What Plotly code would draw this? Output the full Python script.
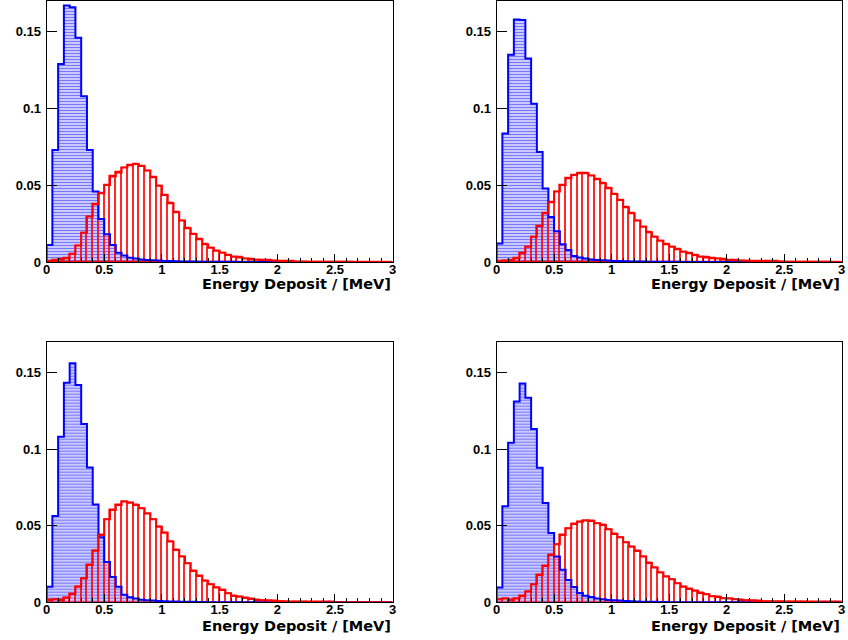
import plotly.graph_objects as go

# ---------------- data ----------------
bin_width = 0.05
bin_edges = [round(i * bin_width, 2) for i in range(61)]
bin_centers = [round(0.025 + i * bin_width, 3) for i in range(60)]

x_tickvals = [0, 0.5, 1, 1.5, 2, 2.5, 3]
x_ticktext = ["0", "0.5", "1", "1.5", "2", "2.5", "3"]
y_tickvals = [0, 0.05, 0.1, 0.15]
y_ticktext = ["0", "0.05", "0.1", "0.15"]
x_title = "Energy Deposit / [MeV]"

blue_1 = [0.011, 0.073, 0.129, 0.167, 0.166, 0.146, 0.108, 0.073, 0.046, 0.028,
          0.018, 0.011, 0.006, 0.0043, 0.0028, 0.0022, 0.0017, 0.0013, 0.0011, 0.0009,
          0.0007, 0.0006, 0.0005, 0.0004, 0.0003, 0.0003, 0.0002, 0.0002, 0.0001, 0.0001,
          0.0001, 0.0001, 0.0001, 0, 0, 0, 0, 0, 0, 0,
          0, 0, 0, 0, 0, 0, 0, 0, 0, 0,
          0, 0, 0, 0, 0, 0, 0, 0, 0, 0]
red_1 = [0.0007, 0.0013, 0.0017, 0.0024, 0.0052, 0.0107, 0.0191, 0.0296, 0.0376, 0.0448,
         0.0502, 0.0557, 0.0583, 0.0615, 0.0630, 0.0639, 0.0626, 0.0596, 0.0552, 0.0496,
         0.0437, 0.0383, 0.0324, 0.0270, 0.0220, 0.0183, 0.0148, 0.0115, 0.0093, 0.0074,
         0.0061, 0.0046, 0.0035, 0.0030, 0.0022, 0.0017, 0.0015, 0.0013, 0.0011, 0.0009,
         0.0007, 0.0005, 0.0004, 0.0003, 0.0003, 0.0002, 0.0002, 0.0001, 0.0001, 0.0001,
         0.0001, 0.0001, 0.0001, 0, 0, 0, 0, 0, 0, 0]

blue_2 = [0.012, 0.0837, 0.135, 0.158, 0.1576, 0.1326, 0.103, 0.0717, 0.0478, 0.0293,
          0.0200, 0.0115, 0.0078, 0.0039, 0.0030, 0.0022, 0.0017, 0.0013, 0.0011, 0.0009,
          0.0007, 0.0006, 0.0005, 0.0004, 0.0003, 0.0003, 0.0002, 0.0002, 0.0001, 0.0001,
          0.0001, 0.0001, 0, 0, 0, 0, 0, 0, 0, 0,
          0, 0, 0, 0, 0, 0, 0, 0, 0, 0,
          0, 0, 0, 0, 0, 0, 0, 0, 0, 0]
red_2 = [0.0004, 0.0009, 0.0013, 0.0024, 0.0057, 0.0100, 0.0165, 0.0235, 0.0317, 0.0389,
         0.0459, 0.0502, 0.0546, 0.0567, 0.0578, 0.0578, 0.0563, 0.0539, 0.0513, 0.0480,
         0.0443, 0.0404, 0.0357, 0.0317, 0.0270, 0.0230, 0.0193, 0.0165, 0.0139, 0.0115,
         0.0100, 0.0083, 0.0067, 0.0057, 0.0046, 0.0035, 0.0030, 0.0024, 0.0022, 0.0017,
         0.0013, 0.0011, 0.0009, 0.0008, 0.0007, 0.0006, 0.0005, 0.0004, 0.0004, 0.0003,
         0.0002, 0.0002, 0.0002, 0.0001, 0.0001, 0.0001, 0.0001, 0.0001, 0, 0]

blue_3 = [0.0102, 0.0563, 0.108, 0.1433, 0.1559, 0.1417, 0.1163, 0.088, 0.0638, 0.0425,
          0.0263, 0.0165, 0.0102, 0.0050, 0.0033, 0.0024, 0.0017, 0.0013, 0.0011, 0.0009,
          0.0007, 0.0006, 0.0005, 0.0004, 0.0003, 0.0003, 0.0002, 0.0002, 0.0001, 0.0001,
          0.0001, 0, 0, 0, 0, 0, 0, 0, 0, 0,
          0, 0, 0, 0, 0, 0, 0, 0, 0, 0,
          0, 0, 0, 0, 0, 0, 0, 0, 0, 0]
red_3 = [0.0015, 0.0020, 0.0015, 0.0030, 0.0054, 0.0102, 0.0157, 0.0243, 0.0337, 0.0439,
         0.0541, 0.0602, 0.0635, 0.0657, 0.0650, 0.0635, 0.0613, 0.0580, 0.0541, 0.0493,
         0.0454, 0.0396, 0.0341, 0.0298, 0.0254, 0.0204, 0.0172, 0.0141, 0.0117, 0.0096,
         0.0080, 0.0059, 0.0041, 0.0037, 0.0028, 0.0022, 0.0015, 0.0013, 0.0011, 0.0009,
         0.0007, 0.0005, 0.0004, 0.0003, 0.0003, 0.0002, 0.0002, 0.0001, 0.0001, 0.0001,
         0, 0, 0, 0, 0, 0, 0, 0, 0, 0]

blue_4 = [0.0096, 0.0627, 0.104, 0.131, 0.1428, 0.1335, 0.113, 0.0878, 0.0648, 0.0452,
          0.0299, 0.0212, 0.0146, 0.0099, 0.0061, 0.0042, 0.0035, 0.0025, 0.0020, 0.0015,
          0.0013, 0.0011, 0.0009, 0.0007, 0.0005, 0.0004, 0.0003, 0.0003, 0.0002, 0.0002,
          0.0001, 0.0001, 0.0001, 0, 0, 0, 0, 0, 0, 0,
          0, 0, 0, 0, 0, 0, 0, 0, 0, 0,
          0, 0, 0, 0, 0, 0, 0, 0, 0, 0]
red_4 = [0.0020, 0.0024, 0.0015, 0.0024, 0.0041, 0.0070, 0.0117, 0.0178, 0.0237, 0.0309,
         0.0378, 0.0439, 0.0483, 0.0511, 0.0526, 0.0533, 0.0530, 0.0515, 0.0504, 0.0476,
         0.0446, 0.0424, 0.0391, 0.0363, 0.0335, 0.0298, 0.0256, 0.0227, 0.0195, 0.0168,
         0.0150, 0.0124, 0.0102, 0.0086, 0.0075, 0.0061, 0.0052, 0.0039, 0.0035, 0.0026,
         0.0024, 0.0020, 0.0015, 0.0013, 0.0011, 0.0009, 0.0007, 0.0007, 0.0006, 0.0005,
         0.0004, 0.0004, 0.0003, 0.0003, 0.0002, 0.0002, 0.0001, 0.0001, 0.0001, 0.0001]

panels = [(blue_1, red_1), (blue_2, red_2), (blue_3, red_3), (blue_4, red_4)]

# ---------------- layout geometry ----------------
W, H = 848, 648
K = H / 640.0  # vertical pixel mapping


def py(y):
    return 1 - (y * K) / H


x_doms = [[43 / W, 392.3 / W], [497.3 / W, 845.7 / W]]
y_doms = [[py(262), py(1)], [py(602.3), py(341.7)]]
title_y = [py(284), py(625.5)]

FONT = "Liberation Sans, Arial, Helvetica, sans-serif"
TITLE_FONT = "DejaVu Sans, Liberation Sans, sans-serif"

fig = go.Figure()

for i, (blue, red) in enumerate(panels):
    n = "" if i == 0 else str(i + 1)
    xa, ya = "x" + n, "y" + n
    step_x = [bin_edges[0]] + bin_edges
    step_blue = [0] + blue + [0]
    step_red = [0] + red + [0]

    fig.add_trace(go.Bar(
        x=bin_centers, y=blue, width=bin_width, xaxis=xa, yaxis=ya,
        marker=dict(color="rgba(0,0,0,0)", line=dict(width=0),
                    pattern=dict(shape="-", size=3, solidity=0.6,
                                 fgcolor="rgb(120,120,255)", fgopacity=1,
                                 bgcolor="rgba(0,0,0,0)", fillmode="replace")),
        showlegend=False, hoverinfo="skip"))
    fig.add_trace(go.Bar(
        x=bin_centers, y=red, width=bin_width, xaxis=xa, yaxis=ya,
        marker=dict(color="rgba(0,0,0,0)", line=dict(color="#ff0000", width=1.2)),
        showlegend=False, hoverinfo="skip"))
    fig.add_trace(go.Scatter(
        x=step_x, y=step_blue, xaxis=xa, yaxis=ya, mode="lines",
        line=dict(color="#0000ff", width=2, shape="hv"),
        showlegend=False, hoverinfo="skip"))
    fig.add_trace(go.Scatter(
        x=step_x, y=step_red, xaxis=xa, yaxis=ya, mode="lines",
        line=dict(color="#ff0000", width=2, shape="hv"),
        showlegend=False, hoverinfo="skip"))

    col, row = i % 2, i // 2
    axis_common = dict(showline=True, linecolor="black", linewidth=1, mirror=True,
                       showgrid=False, zeroline=False, ticks="inside",
                       tickcolor="black",
                       tickfont=dict(family=FONT, size=13, color="black", weight="bold"))
    fig.layout["xaxis" + n] = dict(
        axis_common, domain=x_doms[col], anchor=ya, range=[0, 3],
        tickvals=x_tickvals, ticktext=x_ticktext, ticklen=8,
        minor=dict(ticks="inside", ticklen=4, dtick=0.1, tick0=0, tickcolor="black"),
        ticklabelstandoff=-5)
    fig.layout["yaxis" + n] = dict(
        axis_common, domain=y_doms[row], anchor=xa, range=[0, 0.17],
        tickvals=y_tickvals, ticktext=y_ticktext, ticklen=10,
        ticklabelstandoff=2)

    fig.add_annotation(
        text=x_title, xref="paper", yref="paper", x=x_doms[col][1], y=title_y[row],
        xanchor="right", yanchor="middle", showarrow=False,
        font=dict(family=TITLE_FONT, size=14.5, color="black", weight="bold"))

fig.update_layout(
    width=W, height=H, margin=dict(l=0, r=0, t=0, b=0),
    paper_bgcolor="white", plot_bgcolor="white",
    barmode="overlay", bargap=0)

fig.write_html("out.html", config={"displayModeBar": False},
               post_script="document.body.style.margin='0';document.body.style.overflow='hidden';")
